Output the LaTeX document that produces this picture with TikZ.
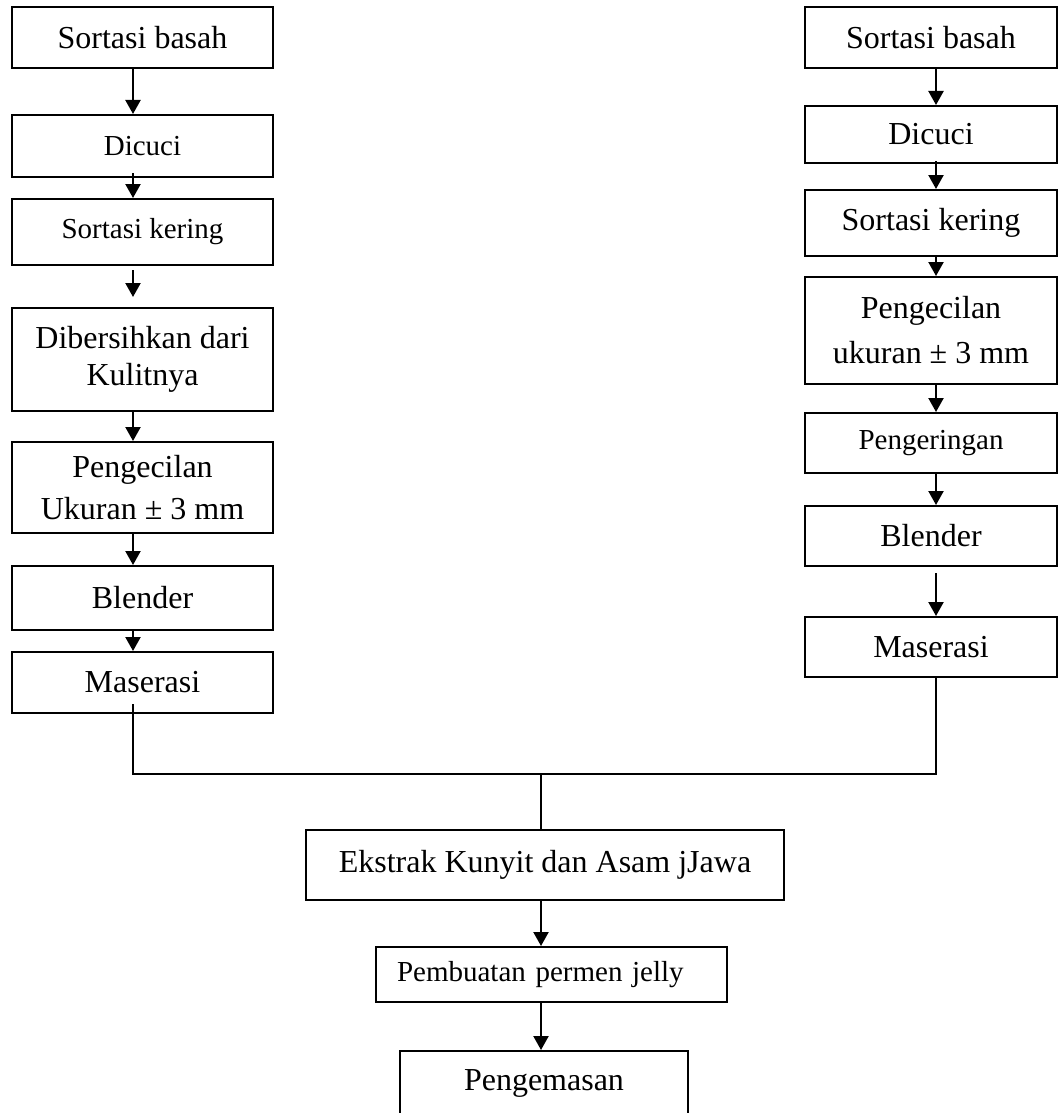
\documentclass[tikz,border=0pt]{standalone}
\usepackage{fontspec}
\setmainfont{Liberation Serif}
\usetikzlibrary{arrows.meta}

\begin{document}
\begin{tikzpicture}[x=0.5pt,y=-0.5pt,
		stage/.style={draw,line width=1pt,rectangle,inner sep=0pt,align=center,font=\fontsize{16}{20}\selectfont},
		small/.style={font=\fontsize{14.5}{18}\selectfont},
		flow/.style={line width=1.1pt,-{Triangle[width=7.5pt,length=7pt]}},
		joint/.style={line width=0.8pt}]
		\useasboundingbox (0,0) rectangle (1059,1113);
		\coordinate (kolomkiri) at (133,0);
		\coordinate (kolomkanan) at (936,0);
		\coordinate (simpul) at (541,774);
		% kolom kiri
		\node[stage,minimum width=130.5pt,minimum height=30.5pt] (kiri1) at (142.5,37.5) {Sortasi basah};
		\node[stage,small,minimum width=130.5pt,minimum height=31pt] (kiri2) at (142.5,146) {Dicuci};
		\node[stage,small,minimum width=130.5pt,minimum height=33pt] (kiri3) at (142.5,232) {Sortasi kering};
		\node[stage,minimum width=130.5pt,minimum height=51.5pt] (kiri4) at (142.5,359.5) {Dibersihkan dari\\[-1.5pt]Kulitnya};
		\node[stage,minimum width=130.5pt,minimum height=45.5pt] (kiri5) at (142.5,487.5) {Pengecilan\\[1pt]Ukuran ± 3 mm};
		\node[stage,minimum width=130.5pt,minimum height=32pt] (kiri6) at (142.5,598) {Blender};
		\node[stage,minimum width=130.5pt,minimum height=30.5pt] (kiri7) at (142.5,682.5) {Maserasi};
		% kolom kanan
		\node[stage,minimum width=126pt,minimum height=30.5pt] (kanan1) at (931,37.5) {Sortasi basah};
		\node[stage,minimum width=126pt,minimum height=28.5pt] (kanan2) at (931,134.5) {Dicuci};
		\node[stage,minimum width=126pt,minimum height=33pt] (kanan3) at (931,223) {Sortasi kering};
		\node[stage,minimum width=126pt,minimum height=53.5pt] (kanan4) at (931,330.5) {Pengecilan\\[2.5pt]ukuran ± 3 mm};
		\node[stage,small,minimum width=126pt,minimum height=30pt] (kanan5) at (931,443) {Pengeringan};
		\node[stage,minimum width=126pt,minimum height=30pt] (kanan6) at (931,536) {Blender};
		\node[stage,minimum width=126pt,minimum height=30pt] (kanan7) at (931,647) {Maserasi};
		% bagian bawah
		\node[stage,minimum width=239pt,minimum height=35pt] (ekstrak) at (545,865) {Ekstrak Kunyit dan Asam jJawa};
		\node[stage,small,align=left,text width=154.5pt,inner xsep=10.5pt,minimum height=27.5pt] (permen) at (551.5,974.5) {Pembuatan permen jelly};
		\node[stage,minimum width=144pt,minimum height=32pt] (kemas) at (544,1083) {Pengemasan};

		\draw[flow] (kiri1.south -| kolomkiri) -- (kiri2.north -| kolomkiri);
		\draw[flow,shorten <=-2.5pt] (kiri2.south -| kolomkiri) -- (kiri3.north -| kolomkiri);
		\draw[flow,shorten <=2pt,shorten >=5pt] (kiri3.south -| kolomkiri) -- (kiri4.north -| kolomkiri);
		\draw[flow] (kiri4.south -| kolomkiri) -- (kiri5.north -| kolomkiri);
		\draw[flow] (kiri5.south -| kolomkiri) -- (kiri6.north -| kolomkiri);
		\draw[flow] (kiri6.south -| kolomkiri) -- (kiri7.north -| kolomkiri);

		\draw[flow] (kanan1.south -| kolomkanan) -- (kanan2.north -| kolomkanan);
		\draw[flow,shorten <=-1.5pt] (kanan2.south -| kolomkanan) -- (kanan3.north -| kolomkanan);
		\draw[flow] (kanan3.south -| kolomkanan) -- (kanan4.north -| kolomkanan);
		\draw[flow] (kanan4.south -| kolomkanan) -- (kanan5.north -| kolomkanan);
		\draw[flow] (kanan5.south -| kolomkanan) -- (kanan6.north -| kolomkanan);
		\draw[flow,shorten <=3pt] (kanan6.south -| kolomkanan) -- (kanan7.north -| kolomkanan);

		\draw[joint] ([yshift=5pt]kiri7.south -| kolomkiri) |- (simpul) -| (kanan7.south -| kolomkanan);
		\draw[joint] (simpul) -- (ekstrak.north -| simpul);
		\draw[flow] (ekstrak.south -| simpul) -- (permen.north -| simpul);
		\draw[flow] (permen.south -| simpul) -- (kemas.north -| simpul);
	\end{tikzpicture}
\end{document}
